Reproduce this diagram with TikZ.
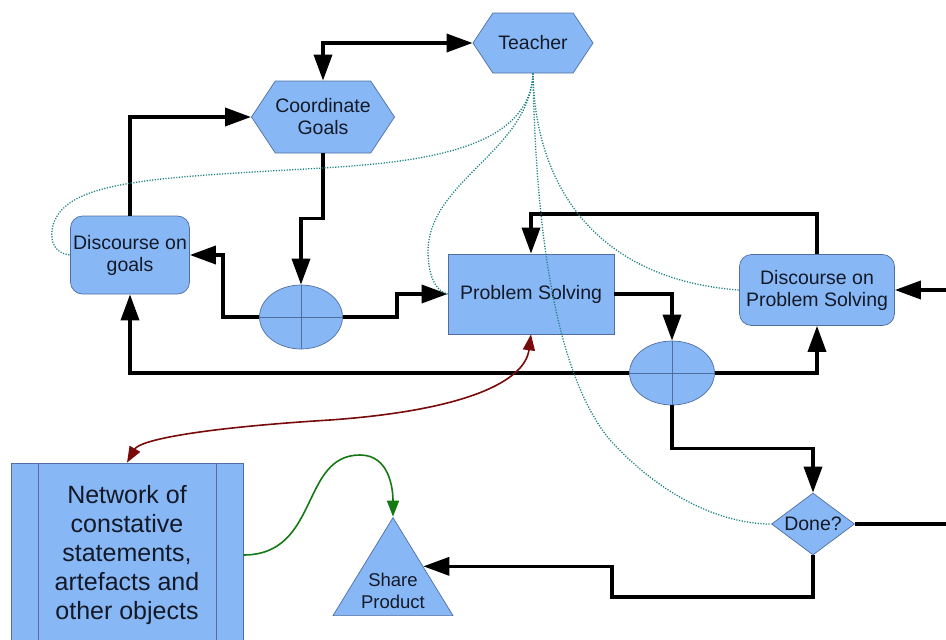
\documentclass[tikz,border=0pt]{standalone}
\usepackage{fontspec}
\setmainfont{Liberation Sans}
\usetikzlibrary{shapes, shapes.geometric, shapes.symbols, arrows.meta, calc, positioning}

\definecolor{boxfill}{RGB}{135,184,245}
\definecolor{boxline}{RGB}{80,110,160}
\definecolor{boxtext}{RGB}{20,25,40}
\definecolor{talkc}{RGB}{30,130,130}
\definecolor{netc}{RGB}{120,10,10}
\definecolor{sharec}{RGB}{20,120,20}

\begin{document}
\begin{tikzpicture}[x=1pt, y=-1pt,
    every node/.style={draw=boxline, fill=boxfill, line width=0.7pt, text=boxtext, align=center,
        font=\fontsize{19.5}{22}\selectfont, inner sep=0pt},
    hexa/.style={signal, signal to=west and east, signal pointer angle=113},
    flow/.style={line width=3.5pt, -{Triangle[length=26pt, width=18pt]}},
    talk/.style={talkc, line width=1.3pt, dash pattern=on 1.2pt off 1.5pt},
    thin/.style={-{Triangle[length=16pt, width=12pt]}, line width=1.6pt}]
    \useasboundingbox (0,0) rectangle (946,640);
    \clip (0,0) rectangle (946,640);

    \node[hexa, minimum width=120pt, minimum height=60pt] (tch) at (533,43) {Teacher};
    \node[hexa, minimum width=137pt, minimum height=72pt] (cg) at (323,117) {Coordinate\\Goals};
    \node[rectangle, rounded corners=12pt, minimum width=119pt, minimum height=78pt] (dg) at (130,255) {Discourse on\\goals};
    \node[ellipse, minimum width=83pt, minimum height=64pt] (j1) at (301,317) {};
    \node[rectangle, minimum width=166pt, minimum height=80pt] (ps) at (531,294) {Problem Solving};
    \node[rectangle, rounded corners=12pt, minimum width=155pt, minimum height=71pt] (dps) at (817,290) {Discourse on\\Problem Solving};
    \node[ellipse, minimum width=85pt, minimum height=64pt] (j2) at (672,373) {};
    \node[diamond, aspect=1.34, minimum width=83pt, minimum height=62pt] (dn) at (813,524) {Done?};
    \node[rectangle, minimum width=232pt, minimum height=184pt, font=\fontsize{25}{29}\selectfont] (net) at (127,555)
        {Network of\\constative\\statements,\\artefacts and\\other objects};
    \node[isosceles triangle, shape border rotate=90, isosceles triangle stretches,
        minimum width=120pt, minimum height=98pt] (sp) at (393,582) {};
    \node[draw=none, fill=none, font=\fontsize{18.5}{22}\selectfont] (spt) at (393,591) {Share\\Product};

    % crosses and side bars
    \draw[boxline, line width=0.7pt] (j1.north) -- (j1.south) (j1.west) -- (j1.east);
    \draw[boxline, line width=0.7pt] (j2.north) -- (j2.south) (j2.west) -- (j2.east);
    \draw[boxline, line width=0.7pt] ([xshift=28pt]net.north west) -- ([xshift=28pt]net.south west)
        ([xshift=-27pt]net.north east) -- ([xshift=-27pt]net.south east);

    \coordinate (rin) at (950,290);
    \coordinate (rout) at (950,524);

    % Flow
    \draw[flow, {Triangle[length=26pt, width=18pt]}-{Triangle[length=26pt, width=18pt]}] (cg.north) |- (tch.west);
    \draw[flow] (dg.north) |- (cg.west);
    \draw[flow] (cg.south) -- ++(0,65) -| (j1.north);
    \draw[flow] (j1.west) -- (223,317) |- (dg.east);
    \draw[flow] (j1.east) -- (397,317) |- (ps.west);
    \draw[flow] (ps.east) -| (j2.north);
    \draw[flow] (j2.east) -| (dps.south);
    \draw[flow] (j2.west) -| (dg.south);
    \draw[flow] (dps.north) -- ++(0,-40) -| (ps.north);
    \draw[flow] (rin) -- (dps.east);
    \draw[flow] (j2.south) -- ++(0,43) -| (dn.north);
    \draw[line width=3.5pt] (dn.east) -- (rout);
    \draw[flow] (dn.south) |- (612,597) |- (sp.right side);

    % Teacher talk
    \draw[talk] (tch.south) .. controls (530,150) and (420,162) .. (323,168)
        .. controls (150,178) and (60,180) .. (52,230) .. controls (50,250) and (62,254) .. (dg.west);
    \draw[talk] (tch.south) .. controls (530,150) and (430,180) .. (428,250)
        .. controls (428,280) and (438,292) .. (ps.west);
    \draw[talk] (tch.south) .. controls (535,190) and (600,280) .. (dps.west);
    \draw[talk] (tch.south) .. controls (536,250) and (560,380) .. (610,440)
        .. controls (660,495) and (720,524) .. (dn.west);

    % Network
    \draw[thin, netc, {Triangle[length=16pt, width=12pt]}-{Triangle[length=16pt, width=12pt]}] (ps.south)
        .. controls (525,380) and (470,410) .. (330,420) .. controls (200,428) and (140,440) .. (net.north);
    \draw[thin, sharec] (net.east) .. controls (320,555) and (300,455) .. (360,455)
        .. controls (390,455) and (393,490) .. (sp.apex);
\end{tikzpicture}
\end{document}
